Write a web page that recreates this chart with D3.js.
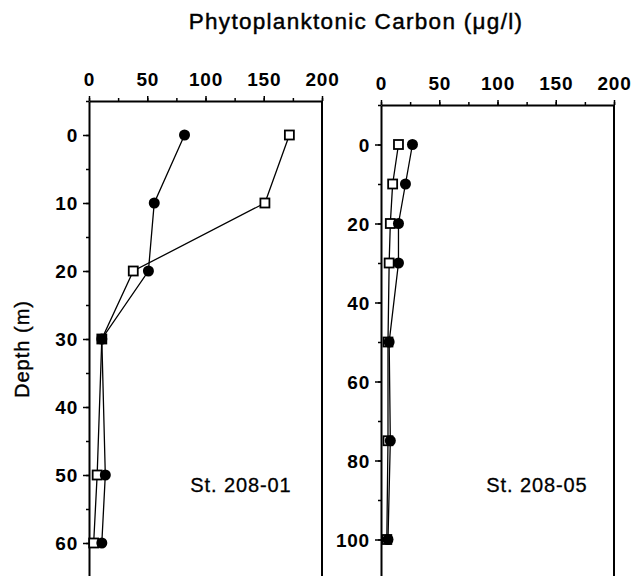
<!DOCTYPE html>
<html>
<head>
<meta charset="utf-8">
<script src="https://cdn.jsdelivr.net/npm/d3@7"></script>
<style>
  body { margin: 0; background: #fff; }
  svg { display: block; }
  text { font-family: "Liberation Sans", Arial, sans-serif; fill: #000; }
</style>
</head>
<body>
<svg id="chart" width="643" height="576"></svg>
<script>
// ---- data ----
const depth1 = [0, 10, 20, 30, 50, 60];
const st1Circle = [82, 56, 51, 11, 14, 11];
const st1Square = [172, 151, 38, 11, 7, 4];

const depth2 = [0, 10, 20, 30, 50, 75, 100];
const st2Circle = [27, 21, 15, 15, 7, 8, 6];
const st2Square = [15, 10, 8, 7, 6, 6, 5];

const xTicks = [0, 50, 100, 150, 200];
const yTicks1 = [0, 10, 20, 30, 40, 50, 60];
const yTicks2 = [0, 20, 40, 60, 80, 100];

const titleText = "Phytoplanktonic Carbon (\u03bcg/l)";
const yLabel = "Depth (m)";
const stationLabels = ["St. 208-01", "St. 208-05"];

// ---- drawing ----
const svg = d3.select("#chart");

const panels = [
  { depth: depth1, circ: st1Circle, sq: st1Square, x0: 89, x1: 322, yDom: [-5, 65], y0: 101, y1: 577,
    yTicks: yTicks1, minorY: d3.range(-5, 66, 5), label: stationLabels[0], labelPos: [241, 492] },
  { depth: depth2, circ: st2Circle, sq: st2Square, x0: 381, x1: 614, yDom: [-10, 110], y0: 105, y1: 579,
    yTicks: yTicks2, minorY: d3.range(-10, 111, 10), label: stationLabels[1], labelPos: [537, 492] }
];

panels.forEach(p => {
  const x = d3.scaleLinear().domain([0, 200]).range([p.x0, p.x1]);
  const y = d3.scaleLinear().domain(p.yDom).range([p.y0, p.y1]);
  const g = svg.append("g");

  // minor x ticks
  g.append("g").attr("transform", `translate(0,${p.y0})`)
    .call(d3.axisTop(x).tickValues(d3.range(0, 201, 25)).tickSize(3).tickFormat(""))
    .call(s => s.select(".domain").remove())
    .selectAll("line").attr("stroke-width", 1.5);
  // major x axis
  const xa = g.append("g").attr("transform", `translate(0,${p.y0})`)
    .call(d3.axisTop(x).tickValues(xTicks).tickSize(5).tickSizeOuter(0));
  xa.select(".domain").attr("stroke-width", 2);
  xa.selectAll("line").attr("stroke-width", 1.5);
  xa.selectAll("text").attr("font-size", 19).attr("font-weight", "bold")
    .attr("letter-spacing", 0.8).attr("y", -15).attr("dy", 0);

  // minor y ticks
  g.append("g").attr("transform", `translate(${p.x0},0)`)
    .call(d3.axisLeft(y).tickValues(p.minorY).tickSize(3).tickFormat(""))
    .call(s => s.select(".domain").remove())
    .selectAll("line").attr("stroke-width", 1.5);
  const ya = g.append("g").attr("transform", `translate(${p.x0},0)`)
    .call(d3.axisLeft(y).tickValues(p.yTicks).tickSize(6).tickSizeOuter(0));
  ya.select(".domain").attr("stroke-width", 2);
  ya.selectAll("line").attr("stroke-width", 1.5);
  ya.selectAll("text").attr("font-size", 19).attr("font-weight", "bold")
    .attr("letter-spacing", 0.8).attr("x", -11).attr("dy", "0.35em");

  // right frame
  g.append("line").attr("x1", p.x1).attr("x2", p.x1).attr("y1", p.y0).attr("y2", p.y1)
    .attr("stroke", "#000").attr("stroke-width", 2);

  const line = d3.line().x(d => x(d[0])).y(d => y(d[1]));
  const sqPts = p.sq.map((v, i) => [v, p.depth[i]]);
  const cPts = p.circ.map((v, i) => [v, p.depth[i]]);

  g.append("path").datum(sqPts).attr("d", line).attr("fill", "none")
    .attr("stroke", "#000").attr("stroke-width", 1.3);
  g.append("path").datum(cPts).attr("d", line).attr("fill", "none")
    .attr("stroke", "#000").attr("stroke-width", 1.3);

  g.selectAll(".sq").data(sqPts).enter().append("rect")
    .attr("x", d => x(d[0]) - 4.5).attr("y", d => y(d[1]) - 4.5)
    .attr("width", 9).attr("height", 9)
    .attr("fill", "#fff").attr("stroke", "#000").attr("stroke-width", 1.8);
  g.selectAll(".ci").data(cPts).enter().append("circle")
    .attr("cx", d => x(d[0])).attr("cy", d => y(d[1])).attr("r", 5.5)
    .attr("fill", "#000");

  g.append("text").attr("x", p.labelPos[0]).attr("y", p.labelPos[1])
    .attr("text-anchor", "middle").attr("font-size", 20).attr("letter-spacing", 0.9)
    .attr("stroke", "#000").attr("stroke-width", 0.3)
    .text(p.label);
});

svg.append("text").attr("x", 356).attr("y", 29).attr("text-anchor", "middle")
  .attr("font-size", 22.5).attr("letter-spacing", 1.3)
  .attr("stroke", "#000").attr("stroke-width", 0.45)
  .text(titleText);

svg.append("text").attr("transform", "translate(29,349) rotate(-90)")
  .attr("text-anchor", "middle").attr("font-size", 20).attr("letter-spacing", 1)
  .attr("stroke", "#000").attr("stroke-width", 0.4)
  .text(yLabel);
</script>
</body>
</html>
